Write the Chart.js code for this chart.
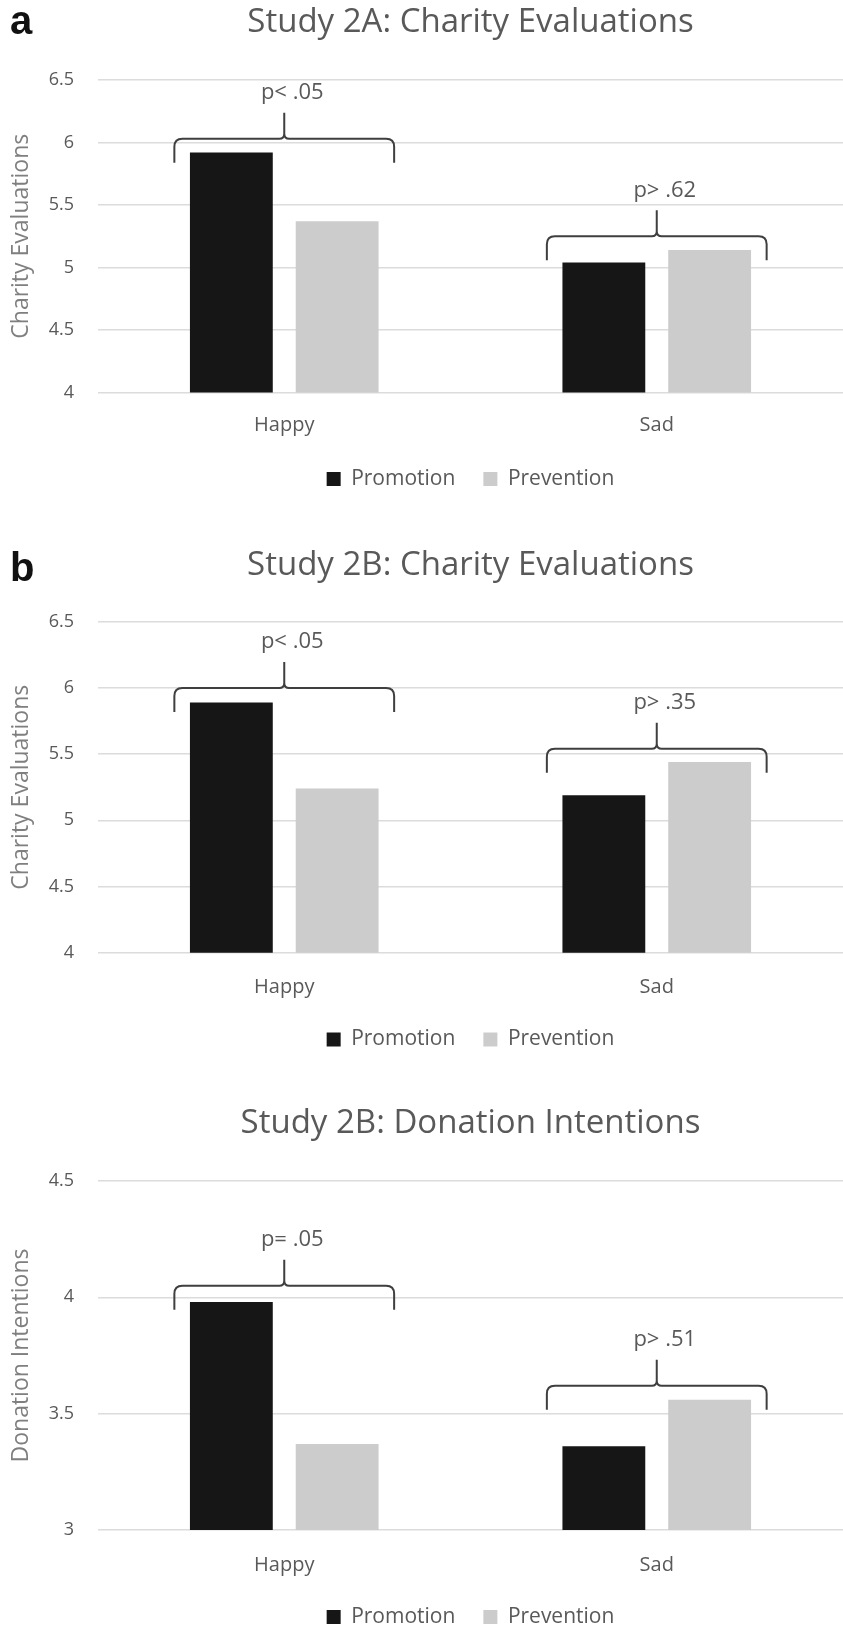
<!DOCTYPE html>
<html>
<head>
<meta charset="utf-8">
<script src="https://cdn.jsdelivr.net/npm/chart.js@4.4.0/dist/chart.umd.min.js"></script>
<style>
  html, body { margin: 0; padding: 0; background: #fff; overflow: hidden; }
  body { width: 843px; height: 1627px; position: relative; }
  .panel { position: absolute; left: 0; width: 843px; }
  .panel canvas { display: block; }
  .tag { position: absolute; left: 10px; font: bold 40px "Liberation Sans", Arial, sans-serif; line-height: 40px; color: #111; }
</style>
</head>
<body>
<div class="panel" style="top:0"><canvas id="chartA" width="843" height="515"></canvas></div>
<div class="panel" style="top:515px"><canvas id="chartB" width="843" height="555"></canvas></div>
<div class="panel" style="top:1070px"><canvas id="chartC" width="843" height="600"></canvas></div>
<div class="tag" style="top:0px">a</div>
<div class="tag" style="top:547px">b</div>
<script>
const moods = ["Happy", "Sad"];
const focusLabels = ["Promotion", "Prevention"];

// Study 2A: charity evaluations
const evalA_promotion = [5.92, 5.04];
const evalA_prevention = [5.37, 5.14];
const evalA_ticks = [4, 4.5, 5, 5.5, 6, 6.5];
const evalA_braceLevels = [6.03, 5.25];
const evalA_pValues = ["p< .05", "p> .62"];

// Study 2B: charity evaluations
const evalB_promotion = [5.89, 5.19];
const evalB_prevention = [5.24, 5.44];
const evalB_ticks = [4, 4.5, 5, 5.5, 6, 6.5];
const evalB_braceLevels = [6.0, 5.54];
const evalB_pValues = ["p< .05", "p> .35"];

// Study 2B: donation intentions
const donate_promotion = [3.98, 3.36];
const donate_prevention = [3.37, 3.56];
const donate_ticks = [3, 3.5, 4, 4.5];
const donate_braceLevels = [4.05, 3.62];
const donate_pValues = ["p= .05", "p> .51"];

const FONT = '"Open Sans", Lato, sans-serif';
const TEXT = "#595959";
const TITLE_SIZE = 33;
const TICK_SIZE = 18;
const LABEL_SIZE = 20;
const LEGEND_SIZE = 21;
const LEGEND_PAD = 28;
const AXIS_TITLE_SIZE = 23;
const P_SIZE = 22;
const Y_AXIS_WIDTH = 98;

// curly braces with the p-value over each pair of bars
const bracePlugin = {
  id: "braces",
  afterDatasetsDraw(chart, args, opts) {
    const { ctx, scales: { x, y } } = chart;
    const half = (x.getPixelForValue(1) - x.getPixelForValue(0)) * 0.295;
    const rad = 8;
    ctx.save();
    ctx.strokeStyle = "#3f3f3f";
    ctx.lineWidth = 2;
    ctx.fillStyle = TEXT;
    ctx.font = `${P_SIZE}px ${FONT}`;
    ctx.textAlign = "center";
    ctx.textBaseline = "middle";
    opts.levels.forEach((level, i) => {
      const cx = x.getPixelForValue(i);
      const yl = y.getPixelForValue(level);
      const l = cx - half, r = cx + half;
      ctx.beginPath();
      ctx.moveTo(l, yl + 24);
      ctx.lineTo(l, yl + rad);
      ctx.quadraticCurveTo(l, yl, l + rad, yl);
      ctx.lineTo(cx - 5, yl);
      ctx.quadraticCurveTo(cx, yl, cx, yl - 5);
      ctx.lineTo(cx, yl - 26);
      ctx.moveTo(cx, yl - 5);
      ctx.quadraticCurveTo(cx, yl, cx + 5, yl);
      ctx.lineTo(r - rad, yl);
      ctx.quadraticCurveTo(r, yl, r, yl + rad);
      ctx.lineTo(r, yl + 24);
      ctx.stroke();
      ctx.fillText(opts.labels[i], cx + 8, yl - 46);
    });
    ctx.restore();
  }
};

function buildChart(id, cfg) {
  const canvas = document.getElementById(id);
  const H = canvas.height;
  const titleLH = TITLE_SIZE * 1.2;
  const labelLH = LABEL_SIZE * 1.2;
  const axisTitleLH = AXIS_TITLE_SIZE * 1.2;
  const titleTop = cfg.titleY - titleLH / 2;
  const legendTop = cfg.legendY - LEGEND_PAD - LEGEND_SIZE / 2;
  const legendBottom = legendTop + LEGEND_SIZE + LEGEND_PAD + 10;

  return new Chart(canvas.getContext("2d"), {
    type: "bar",
    data: {
      labels: moods,
      datasets: [
        { label: focusLabels[0], data: cfg.promotion, backgroundColor: "#161616", borderWidth: 0 },
        { label: focusLabels[1], data: cfg.prevention, backgroundColor: "#cbcccb", borderWidth: 0 }
      ]
    },
    plugins: [bracePlugin],
    options: {
      responsive: false,
      animation: false,
      devicePixelRatio: 1,
      categoryPercentage: 0.568,
      barPercentage: 0.783,
      layout: { padding: { left: 0, right: 0, top: 0, bottom: H - legendBottom } },
      scales: {
        x: {
          grid: { display: false },
          border: { display: false },
          ticks: {
            color: TEXT,
            font: { family: FONT, size: LABEL_SIZE },
            padding: cfg.labelY - cfg.plotBottom - labelLH / 2 - 7
          },
          afterFit: (s) => { s.height = legendTop - cfg.plotBottom; }
        },
        y: {
          min: cfg.ticks[0],
          max: cfg.ticks[cfg.ticks.length - 1],
          afterBuildTicks: (s) => { s.ticks = cfg.ticks.map((v) => ({ value: v })); },
          afterFit: (s) => { s.width = Y_AXIS_WIDTH; },
          grid: { color: "#dcdcdc", lineWidth: 1.5, drawTicks: false },
          border: { display: false },
          ticks: {
            color: TEXT,
            font: { family: FONT, size: TICK_SIZE },
            padding: 24,
            callback: (v) => String(v)
          },
          title: {
            display: true,
            text: cfg.axisTitle,
            color: "#7f7f7f",
            font: { family: FONT, size: AXIS_TITLE_SIZE },
            padding: { top: 21 - axisTitleLH / 2, bottom: 0 }
          }
        }
      },
      plugins: {
        title: {
          display: true,
          text: cfg.title,
          fullSize: false,
          color: TEXT,
          font: { family: FONT, size: TITLE_SIZE, weight: "normal" },
          padding: { top: titleTop, bottom: cfg.plotTop - titleTop - titleLH }
        },
        legend: {
          position: "bottom",
          fullSize: false,
          labels: {
            color: TEXT,
            font: { family: FONT, size: LEGEND_SIZE },
            boxWidth: 14,
            boxHeight: 14,
            padding: LEGEND_PAD
          }
        },
        tooltip: { enabled: false },
        braces: { levels: cfg.braceLevels, labels: cfg.pValues }
      }
    }
  });
}

function drawAll() {
  buildChart("chartA", {
    title: "Study 2A: Charity Evaluations",
    axisTitle: "Charity Evaluations",
    promotion: evalA_promotion,
    prevention: evalA_prevention,
    ticks: evalA_ticks,
    braceLevels: evalA_braceLevels,
    pValues: evalA_pValues,
    titleY: 23, plotTop: 80, plotBottom: 392.5, labelY: 424, legendY: 479
  });
  buildChart("chartB", {
    title: "Study 2B: Charity Evaluations",
    axisTitle: "Charity Evaluations",
    promotion: evalB_promotion,
    prevention: evalB_prevention,
    ticks: evalB_ticks,
    braceLevels: evalB_braceLevels,
    pValues: evalB_pValues,
    titleY: 51, plotTop: 106.7, plotBottom: 437.7, labelY: 471, legendY: 524.5
  });
  buildChart("chartC", {
    title: "Study 2B: Donation Intentions",
    axisTitle: "Donation Intentions",
    promotion: donate_promotion,
    prevention: donate_prevention,
    ticks: donate_ticks,
    braceLevels: donate_braceLevels,
    pValues: donate_pValues,
    titleY: 53.5, plotTop: 111, plotBottom: 460, labelY: 494, legendY: 547
  });
}

Promise.all([
  document.fonts.load(`20px "Open Sans"`),
  document.fonts.load(`bold 40px "Liberation Sans"`)
]).then(drawAll, drawAll);
</script>
</body>
</html>
